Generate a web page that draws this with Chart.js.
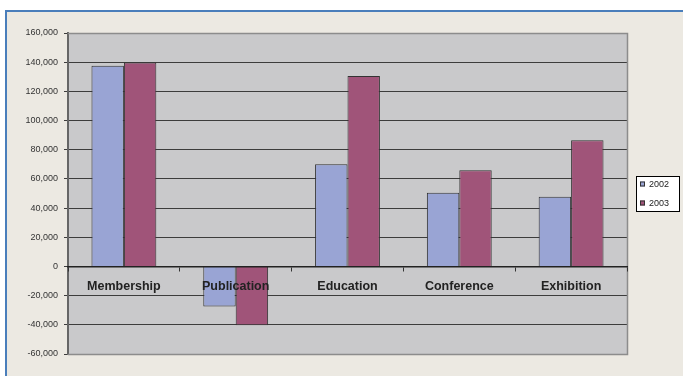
<!DOCTYPE html>
<html>
<head>
<meta charset="utf-8">
<script src="https://cdn.jsdelivr.net/npm/chart.js@4"></script>
<style>
  html, body { margin: 0; padding: 0; background: #fff; }
  #wrap { width: 683px; height: 376px; }
</style>
</head>
<body>
<div id="wrap"><canvas id="budgetChart" width="683" height="376"></canvas></div>
<script>
// Data
const categories = ['Membership', 'Publication', 'Education', 'Conference', 'Exhibition'];
const series2002 = [137500, -27500, 70000, 50500, 47700];
const series2003 = [139700, -40300, 130600, 66000, 86500];
const seriesNames = ['2002', '2003'];
const seriesColors = ['#99A4D4', '#A05479'];

// Beige panel with the blue frame line, grey plot area
const backdrop = {
    id: 'backdrop',
    beforeDraw(chart) {
        const c = chart.ctx;
        const a = chart.chartArea;
        c.save();
        c.fillStyle = '#ffffff';
        c.fillRect(0, 0, chart.width, chart.height);
        c.fillStyle = '#ECE9E2';
        c.fillRect(6, 11, chart.width - 6, chart.height - 11);
        c.fillStyle = '#4A7EBB';
        c.fillRect(5, 10, chart.width - 5, 2);
        c.fillRect(5, 10, 2, chart.height - 10);
        c.fillStyle = '#C9C9CB';
        c.fillRect(a.left, a.top, a.right - a.left, a.bottom - a.top);
        c.restore();
    },
    afterDatasetsDraw(chart) {
        // grey plot border
        const c = chart.ctx;
        const a = chart.chartArea;
        c.save();
        c.strokeStyle = '#8C8C8C';
        c.lineWidth = 1.5;
        c.beginPath();
        c.moveTo(a.left, a.top + 0.5);
        c.lineTo(a.right + 0.5, a.top + 0.5);
        c.lineTo(a.right + 0.5, a.bottom + 0.5);
        c.lineTo(a.left, a.bottom + 0.5);
        c.stroke();
        c.restore();
    }
};

// Small boxed legend on the right
const boxLegend = {
    id: 'boxLegend',
    afterDraw(chart) {
        const c = chart.ctx;
        c.save();
        c.fillStyle = '#ffffff';
        c.fillRect(636.5, 176.5, 43, 35);
        c.strokeStyle = '#000000';
        c.lineWidth = 1;
        c.strokeRect(636.5, 176.5, 43, 35);
        c.font = '9px "Liberation Sans", Arial, sans-serif';
        c.textBaseline = 'middle';
        chart.data.datasets.forEach((ds, i) => {
            const y = 184.5 + i * 19;
            c.fillStyle = ds.backgroundColor;
            c.fillRect(640, y - 3, 5, 5);
            c.strokeStyle = '#333';
            c.strokeRect(640.5, y - 2.5, 4, 4);
            c.fillStyle = '#222';
            c.fillText(ds.label, 649, y);
        });
        c.restore();
    }
};

const ctx = document.getElementById('budgetChart').getContext('2d');
const budgetChart = new Chart(ctx, {
    type: 'bar',
    data: {
        labels: categories,
        datasets: [
            {
                label: seriesNames[0],
                data: series2002,
                backgroundColor: seriesColors[0],
                borderColor: '#333333',
                borderWidth: 1
            },
            {
                label: seriesNames[1],
                data: series2003,
                backgroundColor: seriesColors[1],
                borderColor: '#333333',
                borderWidth: 1
            }
        ]
    },
    options: {
        responsive: false,
        animation: false,
        categoryPercentage: 0.58,
        barPercentage: 1.0,
        layout: { padding: { left: 5, top: 33, right: 56, bottom: 22 } },
        plugins: {
            legend: { display: false },
            tooltip: { enabled: false }
        },
        scales: {
            x: {
                position: { y: 0 },
                afterFit: (s) => { s.height = 0; },
                grid: {
                    drawOnChartArea: false,
                    drawTicks: true,
                    tickLength: 4,
                    color: '#333333',
                    z: 1
                },
                border: { display: true, color: '#222222', width: 1.5, z: 1 },
                ticks: {
                    z: 1,
                    padding: 9,
                    maxRotation: 0,
                    autoSkip: false,
                    color: '#222222',
                    font: { family: '"Liberation Sans", Arial, sans-serif', size: 12.5, weight: 'bold' }
                }
            },
            y: {
                min: -60000,
                max: 160000,
                afterFit: (s) => { s.width = 63; },
                grid: {
                    color: '#3C3C3C',
                    lineWidth: 1,
                    tickLength: 4,
                    drawTicks: true
                },
                border: { display: true, color: '#666666', width: 2 },
                ticks: {
                    stepSize: 20000,
                    padding: 6,
                    color: '#333333',
                    font: { family: '"Liberation Sans", Arial, sans-serif', size: 9 },
                    callback: (v) => v.toLocaleString('en-US')
                }
            }
        }
    },
    plugins: [backdrop, boxLegend]
});
</script>
</body>
</html>
